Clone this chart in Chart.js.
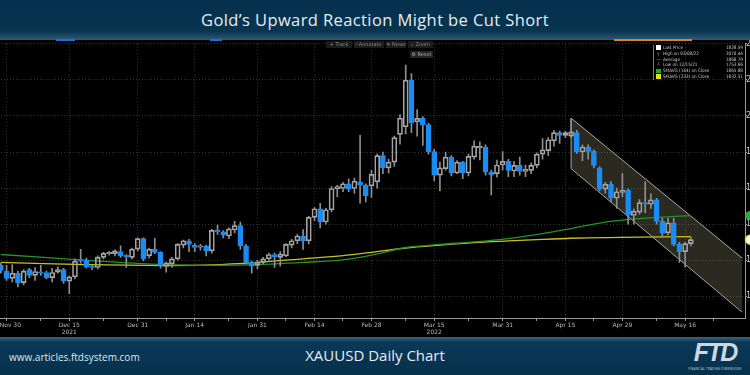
<!DOCTYPE html>
<html>
<head>
<meta charset="utf-8">
<script src="https://cdn.jsdelivr.net/npm/chart.js@4.4.0/dist/chart.umd.min.js"></script>
<style>
html, body { margin: 0; padding: 0; width: 750px; height: 375px; overflow: hidden; background: #000; }
#chart { position: absolute; left: -2px; top: 40px; }
#header { position: absolute; left: 0; top: 0; width: 750px; height: 40px; z-index: 5;
  background: linear-gradient(to bottom, #05304d 0%, #07344f 78%, #2f5b77 100%);
  color: #e6edf2; font-family: "Open Sans", sans-serif; font-weight: 400; font-size: 16.5px; text-align: center; line-height: 40px; letter-spacing: 0.4px; }
#footer { position: absolute; left: 0; top: 337px; width: 750px; height: 38px; z-index: 5;
  background: linear-gradient(to bottom, #3a6581 0%, #0a3855 14%, #06314d 100%); color: #e6edf2; font-family: "Open Sans", sans-serif; }
#site { position: absolute; left: 9px; top: 13px; font-size: 10px; color: #dfe7ec; }
#sub { position: absolute; left: 0; width: 750px; top: 8px; text-align: center; font-size: 15px; }
#logo { position: absolute; left: 684px; top: 3px; width: 62px; text-align: center; color: #cfd8de; }
#logo b { font-family: "Liberation Sans", sans-serif; font-style: italic; font-size: 25px; letter-spacing: -2px; line-height: 24px; }
#logo div { font-size: 3px; letter-spacing: 0.2px; margin-top: 1px; white-space: nowrap; }
.mark { position: absolute; height: 2px; z-index: 6; }
.tb { position: absolute; background: #1b1b1b; color: #8d8d8d; font-family: "DejaVu Sans", sans-serif; font-size: 5px; line-height: 7px; height: 7px; text-align: center; white-space: nowrap; }
#legend { position: absolute; left: 653px; top: 45px; width: 87px; font-family: "DejaVu Sans Condensed", "DejaVu Sans", sans-serif; font-size: 4.6px; color: #c8c8c8; border-left: 1px solid #777; padding-left: 2px; }
#legend .row { height: 5.8px; line-height: 5.8px; position: relative; white-space: nowrap; }
#legend .sw { display: inline-block; width: 5px; height: 4.5px; vertical-align: middle; margin-right: 2px; }
#legend .val { position: absolute; right: 0; top: 0; }
</style>
</head>
<body>
<div id="header">Gold’s Upward Reaction Might be Cut Short</div>
<div class="mark" style="left:56px;top:39px;width:19px;background:#1f6fd0"></div>
<div class="mark" style="left:210px;top:39px;width:12px;background:#1f6fd0"></div>
<div class="mark" style="left:614px;top:39px;width:78px;background:#d9822b"></div>
<canvas id="chart" width="800" height="297"></canvas>
<div class="tb" style="left:326px;top:41px;width:26px">+ Track</div>
<div class="tb" style="left:354px;top:41px;width:30px">⁄ Annotate</div>
<div class="tb" style="left:386px;top:41px;width:20px">≡ News</div>
<div class="tb" style="left:408px;top:41px;width:25px">⌕ Zoom</div>
<div class="tb" style="left:410px;top:51px;width:23px;background:#262626;color:#aaa">⚙ Reset</div>
<div id="legend"></div>
<div id="footer">
  <div id="site">www.articles.ftdsystem.com</div>
  <div id="sub">XAUUSD Daily Chart</div>
  <div id="logo"><b>FTD</b><div>FINANCIAL TRADING DIMENSIONS</div></div>
</div>
<script>
// daily OHLC, weekdays from 2021-11-29 to 2022-05-17
let opens = [1793, 1785, 1775, 1782, 1769, 1787, 1779, 1784, 1783, 1776, 1783.5, 1787, 1771, 1777, 1801, 1800, 1792, 1790, 1804, 1809, 1809, 1812, 1807, 1804, 1815.5, 1830,
  1806, 1815.5, 1811, 1791.4, 1795, 1802, 1821, 1827, 1821, 1818, 1819.6, 1813, 1841.5, 1839.5, 1833.6, 1842, 1848, 1820, 1797, 1793,
  1797, 1802, 1808, 1804, 1806, 1821, 1827, 1833.6, 1827, 1859.5, 1871.4, 1853, 1870, 1899, 1899.5, 1906, 1899.5, 1908.7, 1904, 1903,
  1908.7, 1945, 1928, 1936, 1974.5, 1985, 2049.5, 1992, 1996.6, 1988, 1950.5, 1918, 1927, 1943, 1921, 1936, 1921, 1943, 1956, 1957, 1922, 1920,
  1932, 1937, 1923.7, 1931.5, 1923, 1924.6, 1931.5, 1947, 1952, 1965.5, 1977, 1973, 1972, 1977, 1950, 1957, 1951, 1928,
  1898.7, 1905.5, 1886, 1894, 1897, 1862, 1866.8, 1880, 1877.7, 1883.7, 1854, 1838, 1852, 1822, 1812, 1823];
let highs = [1796, 1793, 1794, 1785, 1787, 1789, 1790, 1793, 1785, 1789, 1791, 1789, 1778, 1802, 1815, 1803, 1793, 1806, 1811, 1812, 1814.5, 1820, 1808, 1817, 1831, 1831,
  1817, 1830.5, 1812, 1797.5, 1804, 1823, 1828, 1829, 1823, 1822, 1821, 1843, 1848.6, 1841, 1845, 1854, 1853, 1822, 1799, 1800,
  1804, 1810, 1810, 1812, 1823, 1829, 1836, 1842.7, 1861, 1873, 1879, 1872, 1902, 1904, 1908, 1913, 1914, 1973, 1906, 1925,
  1947, 1950, 1940, 1972, 2002, 2070.44, 2058.7, 2009, 1999, 1990, 1954, 1936, 1950, 1945, 1938, 1937, 1947, 1965.5, 1964, 1960, 1925, 1939,
  1950.5, 1940, 1937, 1943, 1932, 1935, 1949, 1968.7, 1970, 1980, 1979, 1979, 1996, 1980, 1960, 1960, 1953, 1930,
  1908, 1909, 1900, 1920, 1899, 1871, 1884, 1908.7, 1892, 1886, 1858, 1858, 1858, 1825, 1825, 1832];
let lows = [1782, 1772, 1770, 1763, 1766, 1776, 1772, 1779, 1774, 1770, 1782, 1768, 1753.66, 1774, 1796, 1789, 1787, 1788, 1802, 1807, 1806, 1804, 1790, 1802, 1813, 1799,
  1803, 1809, 1789, 1783.6, 1790, 1800, 1817, 1812, 1812, 1814, 1806, 1810, 1836, 1831, 1830, 1838, 1815, 1795, 1782, 1788,
  1795, 1800, 1790, 1792, 1805, 1817, 1823, 1815, 1822.7, 1855, 1845, 1850, 1867, 1888, 1895, 1895, 1893, 1879, 1881, 1887,
  1900, 1920, 1921, 1930, 1961, 1975, 1977, 1972, 1959, 1947, 1910, 1896, 1925, 1917, 1920, 1913, 1917, 1940, 1939, 1918, 1890.5, 1915,
  1925, 1916, 1916, 1918, 1916, 1920, 1928, 1940, 1945, 1958, 1962, 1970, 1970, 1948, 1938, 1940, 1928, 1896,
  1893, 1881, 1872, 1888, 1850, 1850, 1864, 1866, 1872, 1850, 1832, 1835, 1820, 1797, 1790.4, 1820];
let closes = [1786, 1775, 1782, 1769, 1785, 1779, 1784.5, 1782, 1776, 1783, 1787, 1771, 1777, 1798.6, 1799, 1791, 1790, 1804, 1809.5, 1811, 1813, 1806, 1805, 1815.5, 1830, 1802,
  1815.5, 1811, 1792.7, 1796.5, 1802, 1822, 1827, 1822, 1817.7, 1820, 1813, 1841.5, 1839.5, 1835, 1843.6, 1848, 1820, 1797, 1791.8, 1797,
  1802, 1808, 1805, 1808.6, 1822, 1827, 1833.6, 1827, 1859.5, 1871.4, 1853, 1870, 1899.5, 1902, 1906, 1898.7, 1909.6, 1904, 1889.6, 1919,
  1945, 1928, 1936, 1970, 1997, 2049.5, 1990.5, 1996.6, 1988, 1950.5, 1918, 1928, 1943, 1921, 1936, 1921, 1944, 1958, 1958, 1922, 1918.6, 1932,
  1937, 1924.6, 1931.5, 1923, 1926, 1931.5, 1947, 1953, 1967, 1977, 1973, 1977, 1978, 1950, 1957, 1951, 1931.5, 1898.7,
  1905.5, 1886, 1895, 1897, 1863, 1868, 1880, 1877.7, 1883.7, 1854, 1838, 1852, 1822, 1812, 1823, 1828.59];

// moving averages read at a few days (index into the day list)
let maIdx = [0, 15, 29, 37, 45, 53, 60, 65, 71, 77, 83, 89, 95, 100, 106, 112, 121];
let sma144 = [1808, 1800, 1794, 1793, 1794, 1797, 1800.5, 1807, 1817.7, 1822, 1825.4, 1830, 1836.8, 1844, 1853, 1857.8, 1862];
let sma233 = [1797, 1794, 1792.7, 1793.5, 1797, 1802, 1806.4, 1811, 1817, 1821, 1824.5, 1826.8, 1829, 1830.5, 1831.3, 1832, 1832.7];

// channel: start day index, end day index, top/bottom at each end
let chanIdx = [100, 130];
let chanTop = [1997, 1803];
let chanBot = [1927, 1728];

let tickText = {
  "2021-11-30": "    Nov 30", "2021-12-15": ["Dec 15", "2021"], "2021-12-31": "Dec 31", "2022-01-14": "Jan 14",
  "2022-01-31": "Jan 31", "2022-02-14": "Feb 14", "2022-02-28": "Feb 28", "2022-03-15": ["Mar 15", "2022"],
  "2022-03-31": "Mar 31", "2022-04-15": "Apr 15", "2022-04-29": "Apr 29", "2022-05-16": "May 16"
};

let legendRows = [
  ["#ffffff", "Last Price", "1828.59"],
  ["┬", "High on 03/08/22", "2070.44"],
  ["—", "Average", "1868.79"],
  ["┴", "Low on 12/15/21", "1753.66"],
  ["#1fa332", "SMAVG (144)  on Close", "1865.88"],
  ["#e6e01c", "SMAVG (233)  on Close", "1832.31"]
];

const BLUE = "#1a8cf5";
const OUTLINE = "#a3a3a3";
const WICK = "#8e8e8e";

// weekday labels, 131 slots (last ones empty space on the right)
let days = [];
let d = new Date(Date.UTC(2021, 10, 29));
while (days.length < 131) {
  let wd = d.getUTCDay();
  if (wd !== 0 && wd !== 6) days.push(d.toISOString().slice(0, 10));
  d.setUTCDate(d.getUTCDate() + 1);
}

let majorIdx = new Set(days.map((x, i) => tickText[x] ? i : -1).filter(i => i >= 0));
let majorList = [...majorIdx].sort((a, b) => a - b);
let minorIdx = new Set();
for (let i = 0; i < majorList.length - 1; i++) minorIdx.add(Math.round((majorList[i] + majorList[i + 1]) / 2));
minorIdx.add(125);

let legend = document.getElementById("legend");
legendRows.forEach(r => {
  let row = document.createElement("div");
  row.className = "row";
  let sw = r[0].startsWith("#") ? `<span class="sw" style="background:${r[0]}"></span>` : `<span style="display:inline-block;width:5px;margin-right:2px;text-align:center">${r[0]}</span>`;
  row.innerHTML = sw + r[1] + `<span class="val">${r[2]}</span>`;
  legend.appendChild(row);
});

let up = (i) => closes[i] >= opens[i];

let edgeMarkers = {
  id: "edgeMarkers",
  afterDraw(c) {
    let y = c.scales.y, cx = c.chartArea.right + 5;
    let g = c.ctx;
    let dot = (v, fill, stroke) => {
      g.beginPath();
      g.arc(cx, y.getPixelForValue(v), 4.5, 0, Math.PI * 2);
      g.fillStyle = fill; g.fill();
      if (stroke) { g.lineWidth = 1.5; g.strokeStyle = stroke; g.stroke(); }
    };
    dot(sma144[sma144.length - 1], "#22b33a");
    dot(closes[closes.length - 1], "#ffffff", "#e6e01c");
  }
};

let ctx = document.getElementById("chart").getContext("2d");
let chart = new Chart(ctx, {
  type: "bar",
  data: {
    labels: days,
    datasets: [
      {
        label: "body", order: 1, grouped: false, barThickness: 5, borderWidth: 1, borderSkipped: false,
        data: opens.map((o, i) => [o, closes[i]]),
        backgroundColor: opens.map((o, i) => up(i) ? "rgba(0,0,0,0)" : BLUE),
        borderColor: opens.map((o, i) => up(i) ? OUTLINE : BLUE)
      },
      {
        label: "upper wick", order: 2, grouped: false, barThickness: 1, borderWidth: 0, backgroundColor: WICK,
        data: highs.map((h, i) => [Math.max(opens[i], closes[i]), h])
      },
      {
        label: "lower wick", order: 2, grouped: false, barThickness: 1, borderWidth: 0, backgroundColor: WICK,
        data: lows.map((l, i) => [l, Math.min(opens[i], closes[i])])
      },
      {
        type: "line", label: "SMAVG (144)", order: 3, borderColor: "#23932e", borderWidth: 1.3, pointRadius: 0, tension: 0.3,
        data: maIdx.map((k, i) => ({ x: days[k], y: sma144[i] }))
      },
      {
        type: "line", label: "SMAVG (233)", order: 3, borderColor: "#c9c21e", borderWidth: 1.3, pointRadius: 0, tension: 0.3,
        data: maIdx.map((k, i) => ({ x: days[k], y: sma233[i] }))
      },
      {
        type: "line", label: "channel top", order: 4, borderColor: "#a8a8a0", borderWidth: 1, pointRadius: 0,
        fill: "+1", backgroundColor: "rgba(150,150,115,0.28)",
        data: chanIdx.map((k, i) => ({ x: days[k], y: chanTop[i] }))
      },
      {
        type: "line", label: "channel bottom", order: 4, borderColor: "#a8a8a0", borderWidth: 1, pointRadius: 0, fill: false,
        data: chanIdx.map((k, i) => ({ x: days[k], y: chanBot[i] }))
      },
      {
        type: "line", label: "channel edge", order: 4, borderColor: "#a8a8a0", borderWidth: 1, pointRadius: 0, fill: false,
        data: [{ x: days[chanIdx[0]], y: chanBot[0] }, { x: days[chanIdx[0]], y: chanTop[0] }]
      }
    ]
  },
  options: {
    responsive: false,
    animation: false,
    layout: { padding: 0, autoPadding: false },
    plugins: { legend: { display: false }, tooltip: { enabled: false } },
    scales: {
      x: {
        offset: true,
        afterFit: (s) => { s.height = 19; },
        grid: {
          offset: false,
          color: (c) => majorIdx.has(c.index) ? "#343434" : "rgba(0,0,0,0)",
          tickColor: (c) => (majorIdx.has(c.index) || minorIdx.has(c.index)) ? "#9a9a9a" : "rgba(0,0,0,0)",
          tickLength: 3
        },
        border: { color: "#9a9a9a", dash: [1, 2] },
        ticks: {
          autoSkip: false, maxRotation: 0, minRotation: 0, padding: 1,
          color: "#b8b8b8", font: { family: "DejaVu Sans", size: 6 },
          callback: (v, i) => tickText[days[i]] || ""
        }
      },
      y: {
        position: "right",
        min: 1720, max: 2100,
        afterFit: (s) => { s.width = 53; },
        grid: { color: "#343434", tickColor: "#9a9a9a", tickLength: 2 },
        border: { color: "#9a9a9a", dash: [1, 2] },
        ticks: {
          stepSize: 50, includeBounds: false, padding: -1,
          color: "#c8c8c8", font: { family: "DejaVu Sans", size: 8 },
          callback: (v) => String(v)
        }
      }
    }
  },
  plugins: [edgeMarkers]
});
</script>
</body>
</html>
